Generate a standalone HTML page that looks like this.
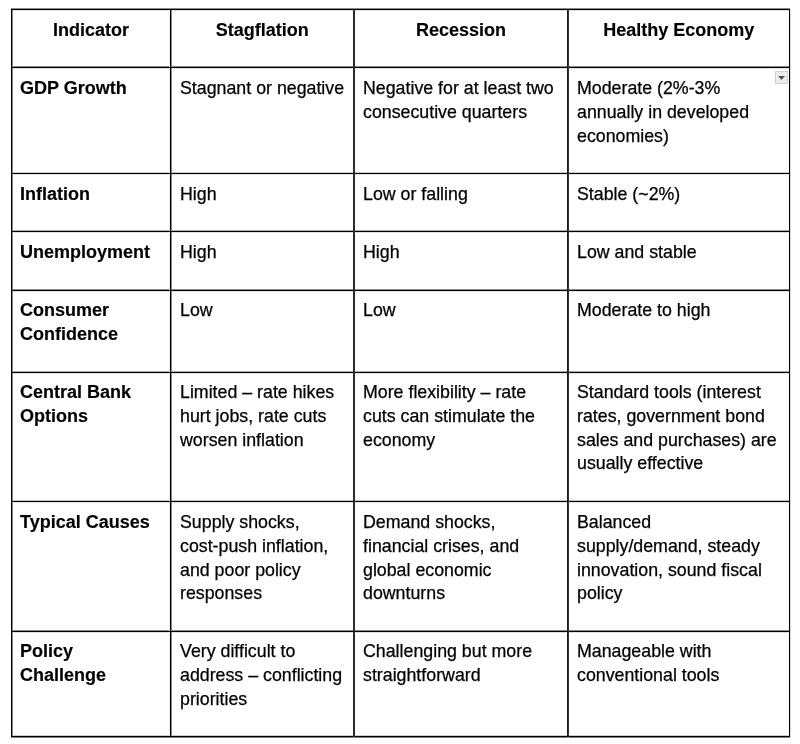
<!DOCTYPE html>
<html><head><meta charset="utf-8"><style>
html,body{margin:0;padding:0;background:#fff;width:800px;height:744px;overflow:hidden}
body{position:relative;filter:blur(0.3px);font-family:"Liberation Sans",sans-serif;color:#000}
.r{position:absolute}
.t{position:absolute;-webkit-text-stroke:0.25px #000;font-size:17.8px;line-height:23.8px;white-space:nowrap}
.b{font-weight:bold;font-size:18px;-webkit-text-stroke:0.15px #000}
.dd{position:absolute;left:775px;top:71px;width:13px;height:13px;background:#ececec;border:1px solid #d2d2d2;box-sizing:border-box}
.dd svg{position:absolute;left:2px;top:3px}
</style></head><body>
<div class="r" style="left:11px;top:8px;width:779px;height:1px;background:#888"></div>
<div class="r" style="left:11px;top:10px;width:779px;height:1px;background:#e0e0e0"></div>
<div class="r" style="left:11px;top:66px;width:779px;height:1px;background:#888"></div>
<div class="r" style="left:11px;top:68px;width:779px;height:1px;background:#e0e0e0"></div>
<div class="r" style="left:11px;top:172px;width:779px;height:1px;background:#c8c8c8"></div>
<div class="r" style="left:11px;top:174px;width:779px;height:1px;background:#e0e0e0"></div>
<div class="r" style="left:11px;top:230px;width:779px;height:1px;background:#aaa"></div>
<div class="r" style="left:11px;top:232px;width:779px;height:1px;background:#e0e0e0"></div>
<div class="r" style="left:11px;top:289px;width:779px;height:1px;background:#888"></div>
<div class="r" style="left:11px;top:291px;width:779px;height:1px;background:#e0e0e0"></div>
<div class="r" style="left:11px;top:371px;width:779px;height:1px;background:#aaa"></div>
<div class="r" style="left:11px;top:373px;width:779px;height:1px;background:#e0e0e0"></div>
<div class="r" style="left:11px;top:500px;width:779px;height:1px;background:#bbb"></div>
<div class="r" style="left:11px;top:502px;width:779px;height:1px;background:#e0e0e0"></div>
<div class="r" style="left:11px;top:630px;width:779px;height:1px;background:#888"></div>
<div class="r" style="left:11px;top:632px;width:779px;height:1px;background:#e0e0e0"></div>
<div class="r" style="left:11px;top:735px;width:779px;height:1px;background:#ccc"></div>
<div class="r" style="left:11px;top:737px;width:779px;height:1px;background:#808080"></div>
<div class="r" style="left:12px;top:9px;width:1px;height:728px;background:#888"></div>
<div class="r" style="left:169px;top:9px;width:1px;height:728px;background:#f0f0f0"></div>
<div class="r" style="left:171px;top:9px;width:1px;height:728px;background:#888"></div>
<div class="r" style="left:790px;top:9px;width:1px;height:728px;background:#ddd"></div>
<div class="r" style="left:11px;top:9px;width:779px;height:1px;background:#000"></div>
<div class="r" style="left:11px;top:67px;width:779px;height:1px;background:#000"></div>
<div class="r" style="left:11px;top:173px;width:779px;height:1px;background:#000"></div>
<div class="r" style="left:11px;top:231px;width:779px;height:1px;background:#000"></div>
<div class="r" style="left:11px;top:290px;width:779px;height:1px;background:#000"></div>
<div class="r" style="left:11px;top:372px;width:779px;height:1px;background:#000"></div>
<div class="r" style="left:11px;top:501px;width:779px;height:1px;background:#000"></div>
<div class="r" style="left:11px;top:631px;width:779px;height:1px;background:#000"></div>
<div class="r" style="left:11px;top:736px;width:779px;height:1px;background:#000"></div>
<div class="r" style="left:11px;top:9px;width:1px;height:728px;background:#000"></div>
<div class="r" style="left:170px;top:9px;width:1px;height:728px;background:#000"></div>
<div class="r" style="left:789px;top:9px;width:1px;height:728px;background:#000"></div>
<div class="r" style="left:353px;top:9px;width:2px;height:728px;background:#2a2a2a"></div>
<div class="r" style="left:567px;top:9px;width:1px;height:728px;background:#1c1c1c"></div>
<div class="r" style="left:568px;top:9px;width:1px;height:728px;background:#333"></div>
<div class="t b" style="left:12px;width:158px;top:19px;text-align:center">Indicator</div>
<div class="t b" style="left:171px;width:182.5px;top:19px;text-align:center">Stagflation</div>
<div class="t b" style="left:354.5px;width:213.0px;top:19px;text-align:center">Recession</div>
<div class="t b" style="left:568.5px;width:220.5px;top:19px;text-align:center">Healthy Economy</div>
<div class="t b" style="left:20px;top:77px">GDP Growth</div>
<div class="t" style="left:180px;top:77px">Stagnant or negative</div>
<div class="t" style="left:363px;top:77px">Negative for at least two<br>consecutive quarters</div>
<div class="t" style="left:577px;top:77px">Moderate (2%-3%<br>annually in developed<br>economies)</div>
<div class="t b" style="left:20px;top:183px">Inflation</div>
<div class="t" style="left:180px;top:183px">High</div>
<div class="t" style="left:363px;top:183px">Low or falling</div>
<div class="t" style="left:577px;top:183px">Stable (~2%)</div>
<div class="t b" style="left:20px;top:241px">Unemployment</div>
<div class="t" style="left:180px;top:241px">High</div>
<div class="t" style="left:363px;top:241px">High</div>
<div class="t" style="left:577px;top:241px">Low and stable</div>
<div class="t b" style="left:20px;top:299px">Consumer<br>Confidence</div>
<div class="t" style="left:180px;top:299px">Low</div>
<div class="t" style="left:363px;top:299px">Low</div>
<div class="t" style="left:577px;top:299px">Moderate to high</div>
<div class="t b" style="left:20px;top:381px">Central Bank<br>Options</div>
<div class="t" style="left:180px;top:381px">Limited – rate hikes<br>hurt jobs, rate cuts<br>worsen inflation</div>
<div class="t" style="left:363px;top:381px">More flexibility – rate<br>cuts can stimulate the<br>economy</div>
<div class="t" style="left:577px;top:381px">Standard tools (interest<br>rates, government bond<br>sales and purchases) are<br>usually effective</div>
<div class="t b" style="left:20px;top:511px">Typical Causes</div>
<div class="t" style="left:180px;top:511px">Supply shocks,<br>cost-push inflation,<br>and poor policy<br>responses</div>
<div class="t" style="left:363px;top:511px">Demand shocks,<br>financial crises, and<br>global economic<br>downturns</div>
<div class="t" style="left:577px;top:511px">Balanced<br>supply/demand, steady<br>innovation, sound fiscal<br>policy</div>
<div class="t b" style="left:20px;top:640px">Policy<br>Challenge</div>
<div class="t" style="left:180px;top:640px">Very difficult to<br>address – conflicting<br>priorities</div>
<div class="t" style="left:363px;top:640px">Challenging but more<br>straightforward</div>
<div class="t" style="left:577px;top:640px">Manageable with<br>conventional tools</div>
<div class="dd"><svg width="8" height="6" viewBox="0 0 8 6"><path d="M0 1 L7 1 L3.5 5 Z" fill="#555"/></svg></div>
</body></html>
